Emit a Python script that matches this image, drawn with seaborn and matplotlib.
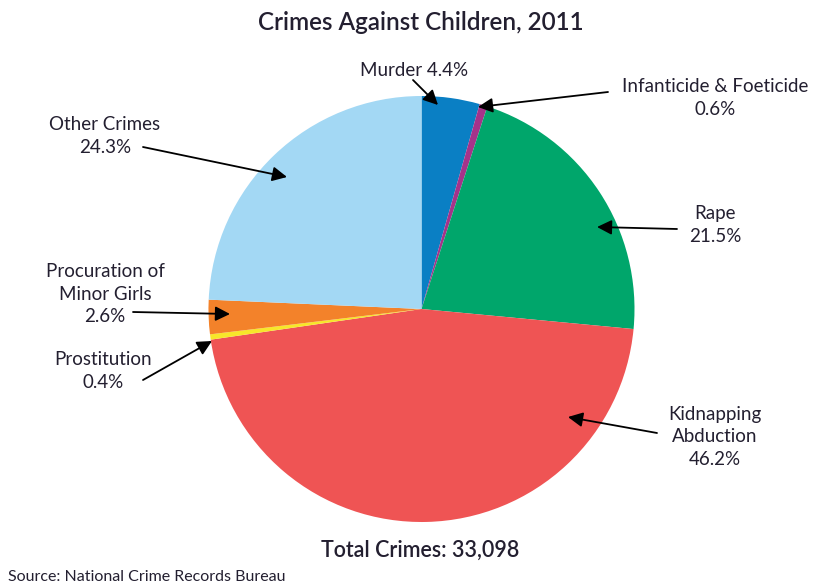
import matplotlib
matplotlib.use("Agg")
import matplotlib.pyplot as plt
import seaborn as sns

categories = ["Murder", "Infanticide & Foeticide", "Rape", "Kidnapping\nAbduction",
              "Prostitution", "Procuration of\nMinor Girls", "Other Crimes"]
shares = [4.4, 0.6, 21.5, 46.2, 0.4, 2.6, 24.3]
colors = ["#0a7fc4", "#a5338a", "#00a66b", "#ef5454", "#f7e62a", "#f3822a", "#a3d8f4"]
title = "Crimes Against Children, 2011"
total_label = "Total Crimes: 33,098"
source = "Source: National Crime Records Bureau"

sns.set_theme(style="white")
plt.rcParams["font.family"] = ["Lato", "DejaVu Sans"]

W, H = 813, 586
fig = plt.figure(figsize=(W / 100, H / 100), dpi=100)
ax = fig.add_axes([0, 0, 1, 1])

def P(x, y):
    return (x, H - y)

cx, cy = P(421.5, 309)
ax.pie(shares, colors=colors, startangle=90, counterclock=False,
       center=(cx, cy), radius=213, wedgeprops=dict(linewidth=0))
ax.set_xlim(0, W)
ax.set_ylim(0, H)
ax.set_aspect("equal")
ax.axis("off")

txtc = "#231f30"
fs = 13.5
# (label text, text center, arrow tail, arrow head)
ann = [
    (f"{categories[0]} {shares[0]}%", (414, 70), (413, 80), (438, 105)),
    (f"{categories[1]}\n{shares[1]}%", (715, 98), (608, 92), (478, 107)),
    (f"{categories[2]}\n{shares[2]}%", (715, 225), (677, 229), (597, 227)),
    (f"{categories[3]}\n{shares[3]}%", (715, 437), (657, 433), (568, 417)),
    (f"{categories[4]}\n{shares[4]}%", (103, 371), (143, 380), (212, 341)),
    (f"{categories[5]}\n{shares[5]}%", (105, 294), (133, 312), (230, 314)),
    (f"{categories[6]}\n{shares[6]}%", (105, 136), (143, 147), (287, 177)),
]
for text, tpos, tail, head in ann:
    ax.text(*P(*tpos), text, ha="center", va="center", fontsize=fs,
            color=txtc, linespacing=1.4)
    ax.annotate("", xy=P(*head), xytext=P(*tail),
                arrowprops=dict(arrowstyle="-|>", mutation_scale=22, lw=1.3,
                                color="black", shrinkA=0, shrinkB=0))

ax.text(*P(421, 22), title, ha="center", va="center", fontsize=17.5,
        color=txtc, fontweight="semibold")
ax.text(*P(420, 550), total_label, ha="center", va="center", fontsize=15.5,
        color=txtc, fontweight="semibold")
ax.text(*P(8, 577), source, ha="left", va="center", fontsize=11.5, color=txtc)

fig.savefig("out.png", dpi=100)
